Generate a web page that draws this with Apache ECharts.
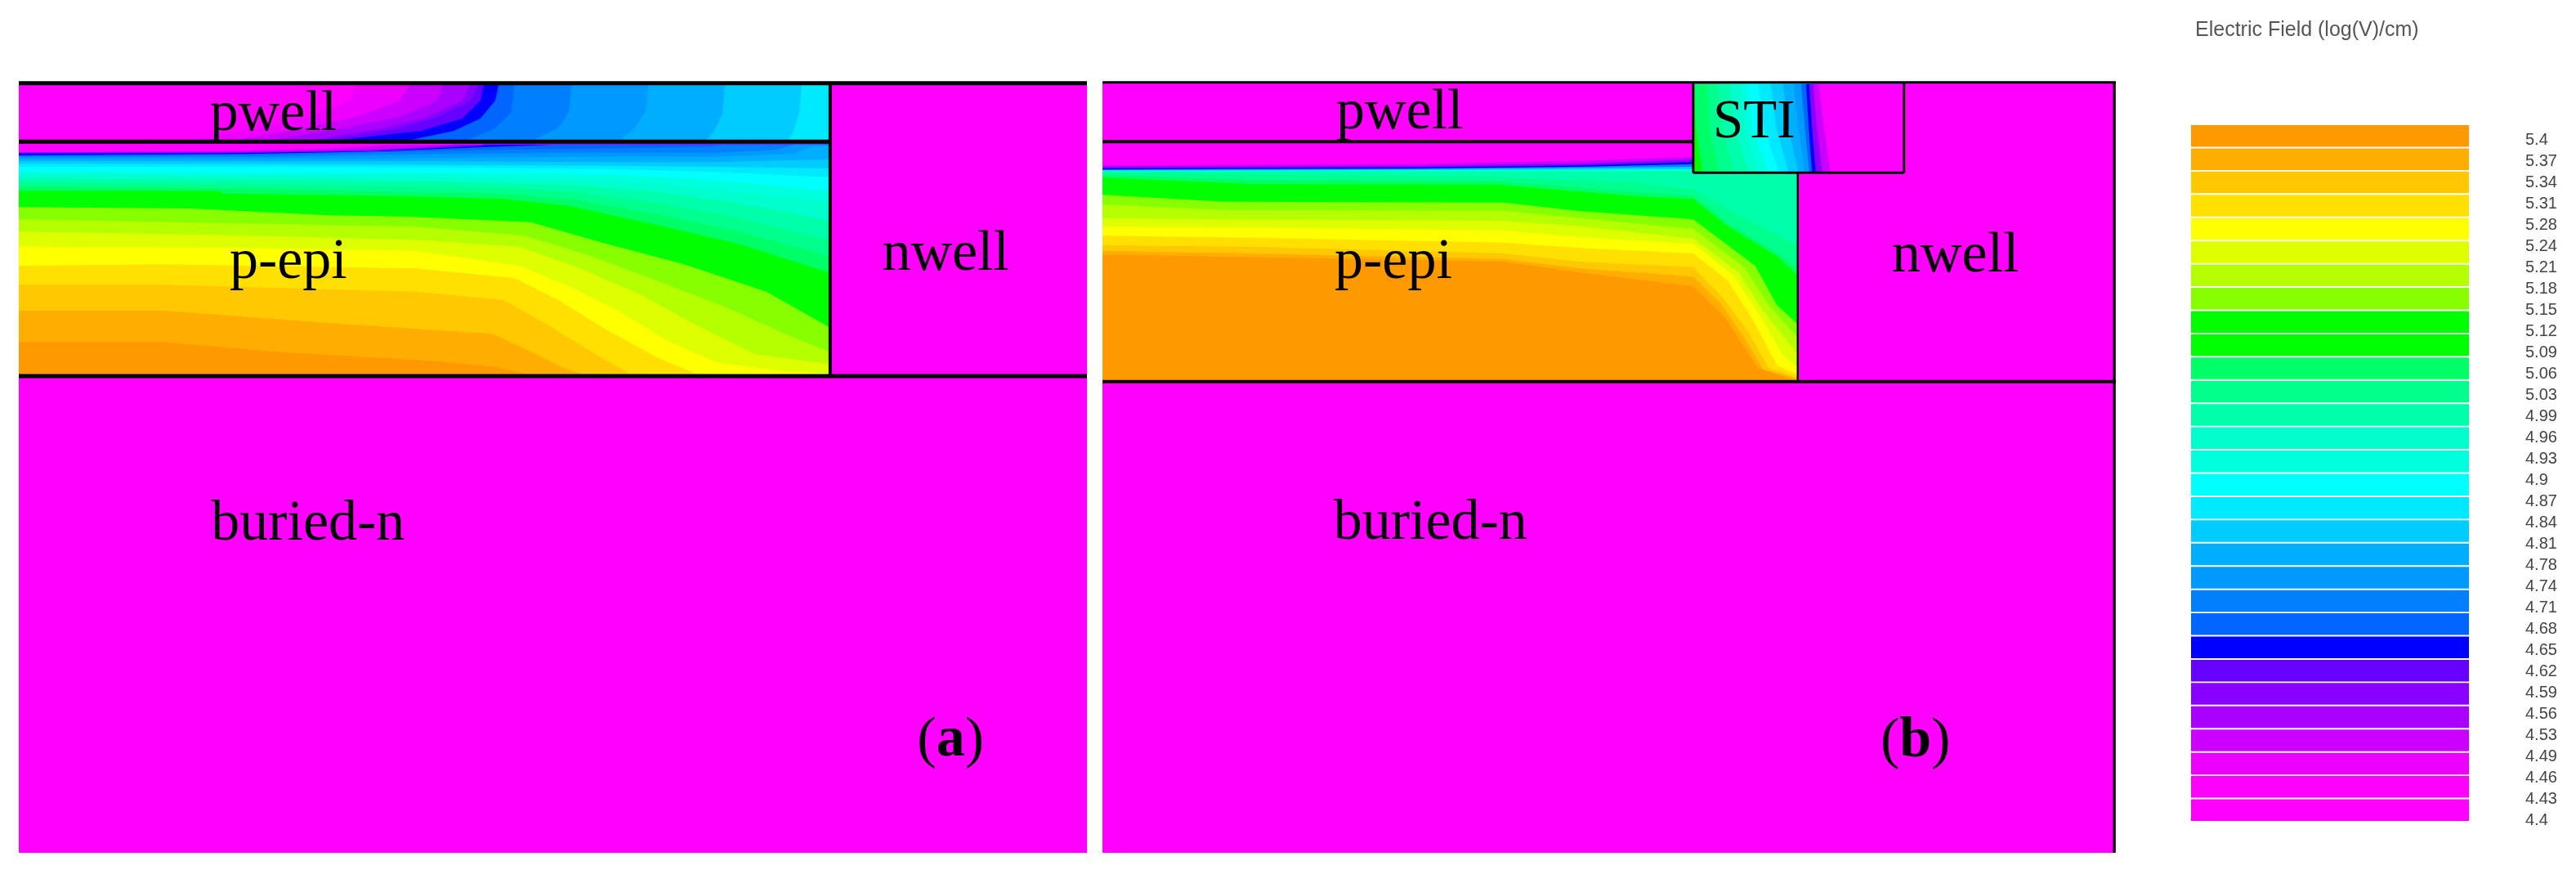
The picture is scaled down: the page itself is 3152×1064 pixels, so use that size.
<!DOCTYPE html>
<html><head><meta charset="utf-8">
<style>html,body{margin:0;padding:0;background:#fff}#main{width:3152px;height:1064px;filter:blur(0.7px)}</style>
<script src="https://cdn.jsdelivr.net/npm/echarts@6/dist/echarts.min.js"></script>
</head><body><div id="main"></div>
<script>
// Legend: 30 colour bands (top to bottom), 33 tick labels
const bandColors = ['#ff9900','#ffae00','#ffc800','#ffe000','#ffff00','#ddff00','#b4ff00','#88ff00','#00ff00','#00ff00',
  '#00ff66','#00ff8c','#00ffaa','#00ffcc','#00ffdd','#00ffff','#00eaff','#00ccff','#00aeff','#0099ff',
  '#0080ff','#0066ff','#0000ff','#6600ff','#8800ff','#aa00ff','#cc00ff','#ee00ff','#ff00ff','#ff00ff'];
const bandIds = bandColors.map((c,i)=>'band'+i);
const bandFill = bandColors.map(()=>1);
const tickLabels = ['5.4','5.37','5.34','5.31','5.28','5.24','5.21','5.18','5.15','5.12','5.09','5.06','5.03','4.99','4.96','4.93','4.9','4.87','4.84','4.81','4.78','4.74','4.71','4.68','4.65','4.62','4.59','4.56','4.53','4.49','4.46','4.43','4.4'];
const legendTitle = 'Electric Field (log(V)/cm)';

// Device domains (arbitrary lateral / depth units)
const aXRange=[35,1986], bXRange=[28,1879], yRange=[60,2889];

// Regions: [x0,y0,x1,y1]
const aBulk=[35,60,1986,2889], bBulk=[28,60,1879,2889];
const aEpiBox=[35,285,1515,1140], aWellBox=[35,68,1515,278];
const bEpiBox=[28,285,1298,1160], bStiBox=[1107,68,1492,392];

// Panel (a) p-epi contours: [band index, polyline] each filled downward
const aEpiContours=[
[26,[[35,318],[400,315],[600,305],[720,292],[1515,290]]],
[24,[[35,320],[450,318],[680,310],[800,297],[830,290],[1515,290]]],
[22,[[35,322],[400,322],[680,315],[830,300],[880,295],[885,290],[1515,290]]],
[21,[[35,330],[450,325],[700,315],[880,300],[1000,292],[1020,290],[1515,290]]],
[20,[[35,333],[500,328],[700,318],[900,310],[1100,305],[1300,298],[1320,290],[1515,290]]],
[19,[[35,337],[500,335],[800,325],[1100,320],[1300,320],[1420,310],[1450,290],[1515,290]]],
[18,[[35,342],[500,343],[800,340],[1100,335],[1300,335],[1450,325],[1480,300],[1515,295]]],
[17,[[35,350],[500,352],[800,352],[1100,355],[1300,355],[1515,345]]],
[16,[[35,360],[500,362],[800,365],[1100,368],[1300,372],[1515,378]]],
[15,[[35,372],[500,372],[800,375],[1100,380],[1300,390],[1515,410]]],
[14,[[35,390],[500,395],[800,395],[1100,400],[1250,415],[1350,430],[1515,460]]],
[13,[[35,400],[500,405],[800,410],[1050,420],[1200,435],[1350,465],[1515,500]]],
[12,[[35,415],[500,420],[800,425],[1050,440],[1200,465],[1350,505],[1515,570]]],
[11,[[35,430],[400,435],[740,445],[920,450],[1050,465],[1200,505],[1350,560],[1515,640]]],
[10,[[35,445],[400,450],[740,465],[920,470],[1040,490],[1200,545],[1350,610],[1515,700]]],
[8,[[35,460],[400,460],[410,470],[740,480],[920,490],[1040,515],[1200,585],[1350,655],[1515,760]]],
[7,[[35,520],[350,525],[600,550],[750,555],[970,575],[1100,650],[1250,730],[1400,830],[1515,960]]],
[6,[[35,565],[400,578],[760,592],[960,625],[1080,700],[1200,790],[1330,890],[1440,990],[1515,1050]]],
[5,[[35,610],[400,622],[760,640],[950,665],[1060,745],[1170,840],[1270,950],[1380,1060],[1515,1095]]],
[4,[[35,665],[400,668],[760,680],[950,735],[1040,810],[1130,900],[1220,1010],[1310,1090],[1420,1120],[1515,1130]]],
[3,[[35,735],[300,730],[760,745],[940,780],[1020,860],[1100,960],[1200,1070],[1270,1130]]],
[2,[[35,805],[300,805],[760,830],[920,860],[1000,950],[1080,1050],[1150,1130]]],
[1,[[35,900],[300,900],[600,945],[900,985],[970,1050],[1030,1110],[1060,1130]]],
[0,[[35,1015],[300,1015],[500,1050],[800,1085],[900,1105],[960,1130]]]
];

// Panel (a) pwell contours: [band index, polyline] each filled rightward
const aWellContours=[
[27,[[650,68],[640,130],[560,190],[440,240],[330,278]]],
[26,[[750,68],[730,130],[650,190],[530,240],[420,278]]],
[25,[[810,68],[800,130],[730,190],[600,240],[480,278]]],
[24,[[860,68],[845,130],[780,190],[690,235],[550,278]]],
[23,[[875,68],[860,130],[800,190],[720,235],[570,278]]],
[22,[[885,68],[878,130],[845,195],[770,240],[600,278]]],
[21,[[912,68],[905,130],[878,195],[830,240],[740,278]]],
[20,[[940,68],[935,170],[905,230],[850,278]]],
[19,[[1045,68],[1040,170],[1020,230],[970,278]]],
[18,[[1185,68],[1180,170],[1160,230],[1130,278]]],
[17,[[1325,68],[1320,180],[1305,240],[1290,278]]],
[16,[[1465,68],[1460,180],[1450,240],[1440,278]]]
];

// Panel (b) p-epi contours: filled downward
const bEpiContours=[
[26,[[28,366],[600,362],[900,350],[1107,335],[1298,335]]],
[24,[[28,372],[600,368],[900,360],[1107,345],[1298,345]]],
[22,[[28,378],[600,374],[900,367],[1107,355],[1298,355]]],
[20,[[28,382],[600,378],[900,372],[1107,362],[1298,362]]],
[17,[[28,384],[600,381],[1107,372],[1298,372]]],
[14,[[28,386],[600,384],[1107,380],[1298,380]]],
[12,[[28,389],[600,388],[1107,388],[1298,388]]],
[11,[[28,392],[750,410],[1000,430],[1107,455],[1180,540],[1298,660]]],
[10,[[28,402],[300,420],[750,425],[1000,465],[1107,480],[1180,590],[1270,700],[1298,745]]],
[8,[[28,412],[300,435],[750,437],[1000,480],[1107,490],[1170,590],[1260,700],[1298,770]]],
[7,[[28,475],[250,500],[760,503],[900,535],[1107,565],[1220,735],[1260,880],[1298,950]]],
[6,[[28,510],[250,530],[760,533],[900,560],[1107,600],[1200,740],[1245,880],[1298,1000]]],
[5,[[28,560],[300,565],[760,570],[900,590],[1107,635],[1190,760],[1235,900],[1298,1060]]],
[4,[[28,592],[300,595],[760,605],[900,630],[1107,655],[1180,770],[1225,905],[1270,1060],[1298,1110]]],
[3,[[28,625],[300,632],[760,650],[900,670],[1107,690],[1170,790],[1215,930],[1260,1100],[1298,1135]]],
[2,[[28,660],[300,665],[760,690],[900,720],[1107,740],[1160,850],[1205,970],[1245,1110],[1298,1145]]],
[1,[[28,680],[300,690],[760,710],[900,745],[1107,775],[1160,880],[1200,1000],[1235,1115],[1298,1150]]],
[0,[[28,695],[200,700],[760,720],[900,760],[1107,810],[1165,925],[1225,1110],[1298,1160]]]
];

// Panel (b) STI contours: filled rightward
const bStiContours=[
[8,[[1107,68],[1107,392]]],
[10,[[1107,68],[1112,230],[1124,392]]],
[11,[[1132,68],[1137,230],[1154,392]]],
[12,[[1152,68],[1159,230],[1182,392]]],
[13,[[1174,68],[1182,230],[1209,392]]],
[14,[[1192,68],[1202,230],[1226,392]]],
[15,[[1204,68],[1216,230],[1244,392]]],
[16,[[1226,68],[1236,230],[1264,392]]],
[17,[[1249,68],[1259,230],[1281,392]]],
[18,[[1271,68],[1281,230],[1299,392]]],
[19,[[1291,68],[1299,230],[1311,392]]],
[21,[[1304,68],[1311,230],[1319,392]]],
[22,[[1313,68],[1318,230],[1324,392]]],
[24,[[1319,68],[1324,230],[1331,392]]],
[26,[[1326,68],[1333,230],[1343,392]]],
[28,[[1336,68],[1346,230],[1358,392]]]
];

// Structure outlines: [x1,y1,x2,y2,width]
const aOutlines=[[35,65,1986,65,5],[35,280,1515,280,5],[35,1140,1986,1140,5],[1517,65,1517,1140,4]];
const bOutlines=[[28,62,1879,62,3],[28,280,1107,280,4],[1107,62,1107,394,3],[1107,394,1492,394,3],[1492,62,1492,394,3],[1298,394,1298,1160,2.5],[28,1160,1879,1160,4],[1876,62,1876,2889,3]];

// Region labels: [text, x, y, size]
const aLabels=[['pwell',384,182,70],['p-epi',420,725,70],['nwell',1612,694,70],['buried-n',386,1684,70]];
const bLabels=[['pwell',455,177,70],['p-epi',452,725,70],['STI',1143,212,67],['nwell',1470,700,70],['buried-n',450,1681,70]];
const aTag=['(','a',')',1676,2479];
const bTag=['(','b',')',1449,2482];

const SERIF='"Liberation Serif","Times New Roman",serif';
const MAGENTA='#ff00ff';

function rectPoly(b){return [[b[0],b[1]],[b[2],b[1]],[b[2],b[3]],[b[0],b[3]]];}
function layers(bulk,groups){
  const out=[{pts:rectPoly(bulk),color:MAGENTA}];
  groups.forEach(g=>g.contours.forEach(c=>{
    const box=g.box, pts=c[1].slice();
    if(g.dir==='down'){pts.push([box[2],box[3]],[box[0],box[3]]);}
    else{pts.push([box[2],box[3]],[box[2],box[1]]);}
    out.push({pts,color:bandColors[c[0]]});
  }));
  return out;
}
const aLayers=layers(aBulk,[{box:aEpiBox,dir:'down',contours:aEpiContours},{box:aWellBox,dir:'right',contours:aWellContours}]);
const bLayers=layers(bBulk,[{box:bEpiBox,dir:'down',contours:bEpiContours},{box:bStiBox,dir:'right',contours:bStiContours}]);

function polySeries(idx,list){return {type:'custom',coordinateSystem:'cartesian2d',xAxisIndex:idx,yAxisIndex:idx,silent:true,clip:true,z:2,
  data:list.map((_,i)=>[i,i]),
  renderItem:(p,api)=>{const l=list[p.dataIndex];
    return {type:'polygon',shape:{points:l.pts.map(q=>api.coord(q))},style:{fill:l.color}};}};}
function lineSeries(idx,list){return {type:'custom',coordinateSystem:'cartesian2d',xAxisIndex:idx,yAxisIndex:idx,silent:true,clip:false,z:3,
  data:list.map((_,i)=>[i,i]),
  renderItem:(p,api)=>{const l=list[p.dataIndex],a=api.coord([l[0],l[1]]),b=api.coord([l[2],l[3]]);
    return {type:'line',shape:{x1:a[0],y1:a[1],x2:b[0],y2:b[1]},style:{stroke:'#000',lineWidth:l[4]}};}};}
function textSeries(idx,list,tag){return {type:'custom',coordinateSystem:'cartesian2d',xAxisIndex:idx,yAxisIndex:idx,silent:true,clip:false,z:4,
  data:list.concat([tag]).map((_,i)=>[i,i]),
  renderItem:(p,api)=>{
    if(p.dataIndex<list.length){const l=list[p.dataIndex],a=api.coord([l[1],l[2]]);
      return {type:'text',x:a[0],y:a[1],style:{text:l[0],fill:'#000',font:l[3]+'px '+SERIF,align:'left',verticalAlign:'middle'}};}
    const a=api.coord([tag[3],tag[4]]);
    return {type:'text',x:a[0],y:a[1],style:{text:'{n|'+tag[0]+'}{b|'+tag[1]+'}{n|'+tag[2]+'}',align:'left',verticalAlign:'middle',
      rich:{n:{font:'70px '+SERIF,fill:'#000',fontSize:70,fontFamily:SERIF,color:'#000'},b:{fontSize:70,fontFamily:SERIF,fontWeight:'bold',fill:'#000',color:'#000'}}}};
  }};}
const hidden={show:false};
const chart=echarts.init(document.getElementById('main'),null,{renderer:'canvas'});
chart.setOption({
  animation:false,backgroundColor:'#fff',
  title:{text:legendTitle,left:2681,top:20,textStyle:{fontFamily:'"Liberation Sans",Arial,sans-serif',fontSize:25,fontWeight:'normal',color:'#555'}},
  grid:[
    {left:23,top:100,width:1307,height:943},
    {left:1349,top:100,width:1240,height:943},
    {left:2681,top:152,width:340,height:853},
    {left:3000,top:158,width:80,height:858}
  ],
  xAxis:[
    {type:'value',gridIndex:0,min:aXRange[0],max:aXRange[1],...hidden},
    {type:'value',gridIndex:1,min:bXRange[0],max:bXRange[1],...hidden},
    {type:'value',gridIndex:2,min:0,max:1,...hidden},
    {type:'value',gridIndex:3,min:0,max:1,...hidden}
  ],
  yAxis:[
    {type:'value',gridIndex:0,min:yRange[0],max:yRange[1],inverse:true,...hidden},
    {type:'value',gridIndex:1,min:yRange[0],max:yRange[1],inverse:true,...hidden},
    {type:'category',gridIndex:2,data:bandIds,inverse:true,...hidden},
    {type:'category',gridIndex:3,data:tickLabels,inverse:true,position:'right',
      axisLine:{show:false},axisTick:{show:false},splitLine:{show:false},
      axisLabel:{show:true,interval:0,align:'left',margin:10,fontSize:20,color:'#444',fontFamily:'"Liberation Sans",Arial,sans-serif'}}
  ],
  series:[
    polySeries(0,aLayers),lineSeries(0,aOutlines),textSeries(0,aLabels,aTag),
    polySeries(1,bLayers),lineSeries(1,bOutlines),textSeries(1,bLabels,bTag),
    {type:'bar',xAxisIndex:2,yAxisIndex:2,barWidth:26.5,silent:true,
     data:bandFill.map((v,i)=>({value:v,itemStyle:{color:bandColors[i]}}))}
  ]
});
</script></body></html>
